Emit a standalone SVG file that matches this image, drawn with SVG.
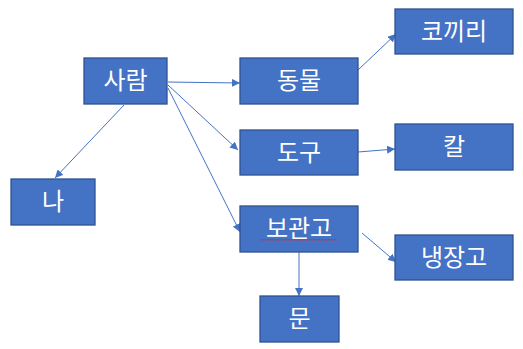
<svg xmlns="http://www.w3.org/2000/svg" width="523" height="349" viewBox="0 0 523 349">
<style>
.box{fill:#4472C4;stroke:#2F528F;stroke-width:1.3}
.lbl{fill:#fff;font-family:"Noto Sans CJK KR","Noto Sans",sans-serif;font-size:24px;text-anchor:middle}
.con{stroke:#4472C4;stroke-width:1;fill:none;marker-end:url(#ah)}
</style>
<defs>
<marker id="ah" viewBox="0 0 10 10" refX="10" refY="5" markerWidth="8" markerHeight="8" markerUnits="userSpaceOnUse" orient="auto">
<path d="M0,0 L10,5 L0,10 z" fill="#4472C4"/>
</marker>
</defs>
<rect width="523" height="349" fill="#fff"/>
<g id="connectors">
<line class="con" x1="168" y1="82" x2="240" y2="83"/>
<line class="con" x1="168" y1="85" x2="238" y2="150"/>
<line class="con" x1="168" y1="88" x2="240" y2="232"/>
<line class="con" x1="124" y1="105" x2="55" y2="178"/>
<line class="con" x1="358" y1="70" x2="396" y2="34"/>
<line class="con" x1="358" y1="152" x2="395" y2="149"/>
<line class="con" x1="362" y1="233" x2="396" y2="262"/>
<line class="con" x1="299" y1="252" x2="299" y2="296"/>
</g>
<g id="n-saram"><rect class="box" x="84" y="58" width="83" height="46"/><text class="lbl" x="125.5" y="89">사람</text></g>
<g id="n-na"><rect class="box" x="11" y="179" width="84" height="46"/><text class="lbl" x="53" y="210">나</text></g>
<g id="n-dongmul"><rect class="box" x="240" y="58" width="118" height="46"/><text class="lbl" x="299" y="89">동물</text></g>
<g id="n-kokkiri"><rect class="box" x="395" y="9" width="118" height="45"/><text class="lbl" x="454" y="40">코끼리</text></g>
<g id="n-dogu"><rect class="box" x="240" y="130" width="118" height="45"/><text class="lbl" x="299" y="161">도구</text></g>
<g id="n-kal"><rect class="box" x="395" y="124" width="118" height="46"/><text class="lbl" x="454" y="155">칼</text></g>
<g id="n-bogwango"><rect class="box" x="240" y="206" width="118" height="46"/><text class="lbl" x="299" y="237">보관고</text>
<path d="M261,240.5 l1.5,-1.5 l1.5,1.5 l1.5,-1.5 l1.5,1.5 l1.5,-1.5 l1.5,1.5 l1.5,-1.5 l1.5,1.5 l1.5,-1.5 l1.5,1.5 l1.5,-1.5 l1.5,1.5 l1.5,-1.5 l1.5,1.5 l1.5,-1.5 l1.5,1.5 l1.5,-1.5 l1.5,1.5 l1.5,-1.5 l1.5,1.5 l1.5,-1.5 l1.5,1.5 l1.5,-1.5 l1.5,1.5 l1.5,-1.5 l1.5,1.5 l1.5,-1.5 l1.5,1.5 l1.5,-1.5 l1.5,1.5 l1.5,-1.5 l1.5,1.5 l1.5,-1.5 l1.5,1.5 l1.5,-1.5 l1.5,1.5 l1.5,-1.5 l1.5,1.5 l1.5,-1.5 l1.5,1.5 l1.5,-1.5 l1.5,1.5 l1.5,-1.5 l1.5,1.5 l1.5,-1.5 l1.5,1.5 l1.5,-1.5 l1.5,1.5 l1.5,-1.5 l1.5,1.5" fill="none" stroke="#E02020" stroke-width="0.8"/></g>
<g id="n-naengjanggo"><rect class="box" x="395" y="235" width="118" height="45"/><text class="lbl" x="454" y="266">냉장고</text></g>
<g id="n-mun"><rect class="box" x="260" y="296" width="79" height="46"/><text class="lbl" x="299.5" y="327">문</text></g>
</svg>
